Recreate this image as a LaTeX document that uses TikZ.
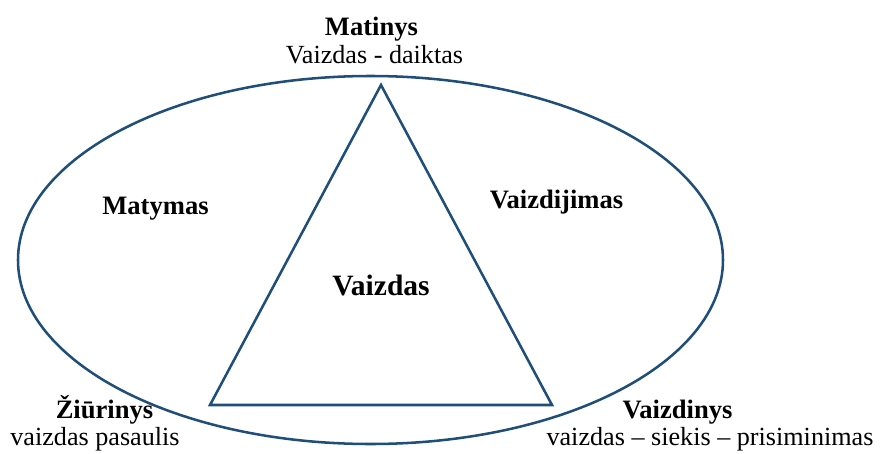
\documentclass[tikz,border=0pt]{standalone}
\usepackage{fontspec}
\setmainfont{Liberation Serif}
\definecolor{lineblue}{RGB}{31,78,121}
\tikzset{
  outline/.style={draw=lineblue, line width=1.8pt},
  plaintext/.style={anchor=base, inner sep=0pt, font=\fontsize{18.6}{22}\selectfont},
  boldtext/.style={plaintext, font=\fontsize{18.9}{22}\selectfont\bfseries},
}

\begin{document}
\begin{tikzpicture}[x=0.025cm, y=-0.025cm]
    \useasboundingbox (0,0) rectangle (884,454);
    % Outer ellipse
    \draw[outline] (370.5,260) ellipse [x radius=352.5, y radius=184];
    % Triangle
    \coordinate (apex) at (381,85);
    \coordinate (leftcorner) at (210,405);
    \coordinate (rightcorner) at (552,405);
    \draw[outline] (apex) -- (leftcorner) -- (rightcorner) -- cycle;
    % Corner labels
    \node[boldtext] (matinys) at (371.5,35) {Matinys};
    \node[plaintext] (matinyssub) at (374.5,63) {Vaizdas - daiktas};
    \node[boldtext] (ziurinys) at (104.5,418) {Žiūrinys};
    \node[plaintext] (ziurinyssub) at (95,445) {vaizdas pasaulis};
    \node[boldtext] (vaizdinys) at (677.5,418) {Vaizdinys};
    \node[plaintext] (vaizdinyssub) at (710,445) {vaizdas – siekis – prisiminimas};
    % Side labels and centre
    \node[boldtext] (matymas) at (155.5,214) {Matymas};
    \node[boldtext] (vaizdijimas) at (556.5,208) {Vaizdijimas};
    \node[boldtext, font=\fontsize{21}{25}\selectfont\bfseries] (vaizdas) at (381,295) {Vaizdas};
\end{tikzpicture}
\end{document}
